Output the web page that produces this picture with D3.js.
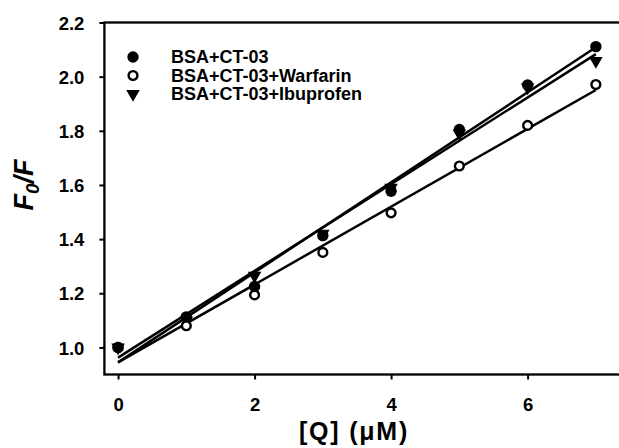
<!DOCTYPE html>
<meta charset="utf-8">
<head>
<style>
body { margin: 0; background: #fff; }
text { font-family: "Liberation Sans", Arial, sans-serif; font-weight: bold; fill: #000; }
.fit { fill: none; stroke: #000; stroke-width: 2.5; }
</style>
</head>
<body>
<svg width="619" height="448"></svg>
<script src="https://d3js.org/d3.v7.min.js"></script>
<script>

// concentrations [Q] (uM)
var conc = [0, 1, 2, 3, 4, 5, 6, 7];

// F0/F
var bsa      = [1.00, 1.113, 1.225, 1.413, 1.577, 1.805, 1.969, 2.111];
var warfarin = [1.00, 1.080, 1.194, 1.351, 1.497, 1.670, 1.820, 1.971];
var ibuprofen = [1.00, 1.100, 1.265, 1.420, 1.590, 1.790, 1.960, 2.058];

var seriesNames = ["BSA+CT-03", "BSA+CT-03+Warfarin", "BSA+CT-03+Ibuprofen"];
var xTicks = [0, 2, 4, 6];
var yTicks = [1.0, 1.2, 1.4, 1.6, 1.8, 2.0, 2.2];

var svg = d3.select("svg");

var x = d3.scaleLinear().domain([-0.2, 7.5]).range([104.4, 630]);
var y = d3.scaleLinear().domain([0.9, 2.2]).range([374.5, 22.5]);

// frame
svg.append("rect")
    .attr("x", x(-0.2)).attr("y", y(2.2))
    .attr("width", x(7.5) - x(-0.2)).attr("height", y(0.9) - y(2.2))
    .attr("fill", "none").attr("stroke", "#000").attr("stroke-width", 2.3);

var xAxis = svg.append("g")
    .attr("transform", "translate(0," + y(0.9) + ")")
    .call(d3.axisBottom(x).tickValues(xTicks).tickSize(5).tickPadding(18).tickFormat(d3.format("d")));

var yAxis = svg.append("g")
    .attr("transform", "translate(" + x(-0.2) + ",0)")
    .call(d3.axisLeft(y).tickValues(yTicks).tickSize(5).tickPadding(15).tickFormat(d3.format(".1f")));

[xAxis, yAxis].forEach(function(a) {
  a.select(".domain").remove();
  a.selectAll(".tick line").attr("stroke", "#000").attr("stroke-width", 2);
  a.selectAll(".tick text").attr("fill", "#000").style("font-size", "18.5px");
});
yAxis.selectAll(".tick text").attr("dy", "0.36em");

// axis titles
svg.append("text")
    .attr("x", 354).attr("y", 440)
    .attr("text-anchor", "middle")
    .style("font-size", "25px")
    .style("letter-spacing", "1.8px")
    .text("[Q] (\u03BCM)");

var yl = svg.append("text")
    .attr("transform", "translate(33,185) rotate(-90)")
    .attr("text-anchor", "middle")
    .style("font-size", "27px")
    .style("font-style", "italic");
yl.append("tspan").text("F");
yl.append("tspan").attr("dy", 6).style("font-size", "19px").text("0");
yl.append("tspan").attr("dy", -6).text("/F");

// linear fits
function fit(xs, ys) {
  var mx = d3.mean(xs), my = d3.mean(ys);
  var sxy = d3.sum(xs, function(v, i) { return (v - mx) * (ys[i] - my); });
  var sxx = d3.sum(xs, function(v) { return (v - mx) * (v - mx); });
  var b = sxy / sxx;
  return { b: b, a: my - b * mx };
}

var allSeries = [bsa, warfarin, ibuprofen];
var x0 = d3.min(conc), x1 = d3.max(conc);

allSeries.forEach(function(vals) {
  var f = fit(conc, vals);
  svg.append("line")
      .attr("class", "fit")
      .attr("x1", x(x0)).attr("y1", y(f.a + f.b * x0))
      .attr("x2", x(x1)).attr("y2", y(f.a + f.b * x1));
});

var tri = d3.symbol().type(d3.symbolTriangle).size(80);

function marker(sel, k) {
  if (k === 0) {
    sel.append("circle").attr("r", 5.7).attr("fill", "#000");
  } else if (k === 1) {
    sel.append("circle").attr("r", 4.4).attr("fill", "#fff").attr("stroke", "#000").attr("stroke-width", 2.4);
  } else {
    sel.append("path").attr("d", tri).attr("transform", "rotate(180)").attr("fill", "#000");
  }
}

// draw ibuprofen, warfarin, then bsa on top
[2, 1, 0].forEach(function(k) {
  var vals = allSeries[k];
  svg.append("g").selectAll("g")
    .data(conc)
    .join("g")
      .attr("transform", function(d, i) { return "translate(" + x(d) + "," + y(vals[i]) + ")"; })
      .each(function() { marker(d3.select(this), k); });
});

// legend
var legend = svg.append("g");
seriesNames.forEach(function(name, k) {
  var ly = 57 + k * 18.5;
  var g = legend.append("g").attr("transform", "translate(133," + ly + ")");
  marker(g, k);
  legend.append("text")
      .attr("x", 171).attr("y", ly)
      .attr("dy", "0.36em")
      .style("font-size", "18px")
      .text(name);
});

</script>
</body>
</html>
